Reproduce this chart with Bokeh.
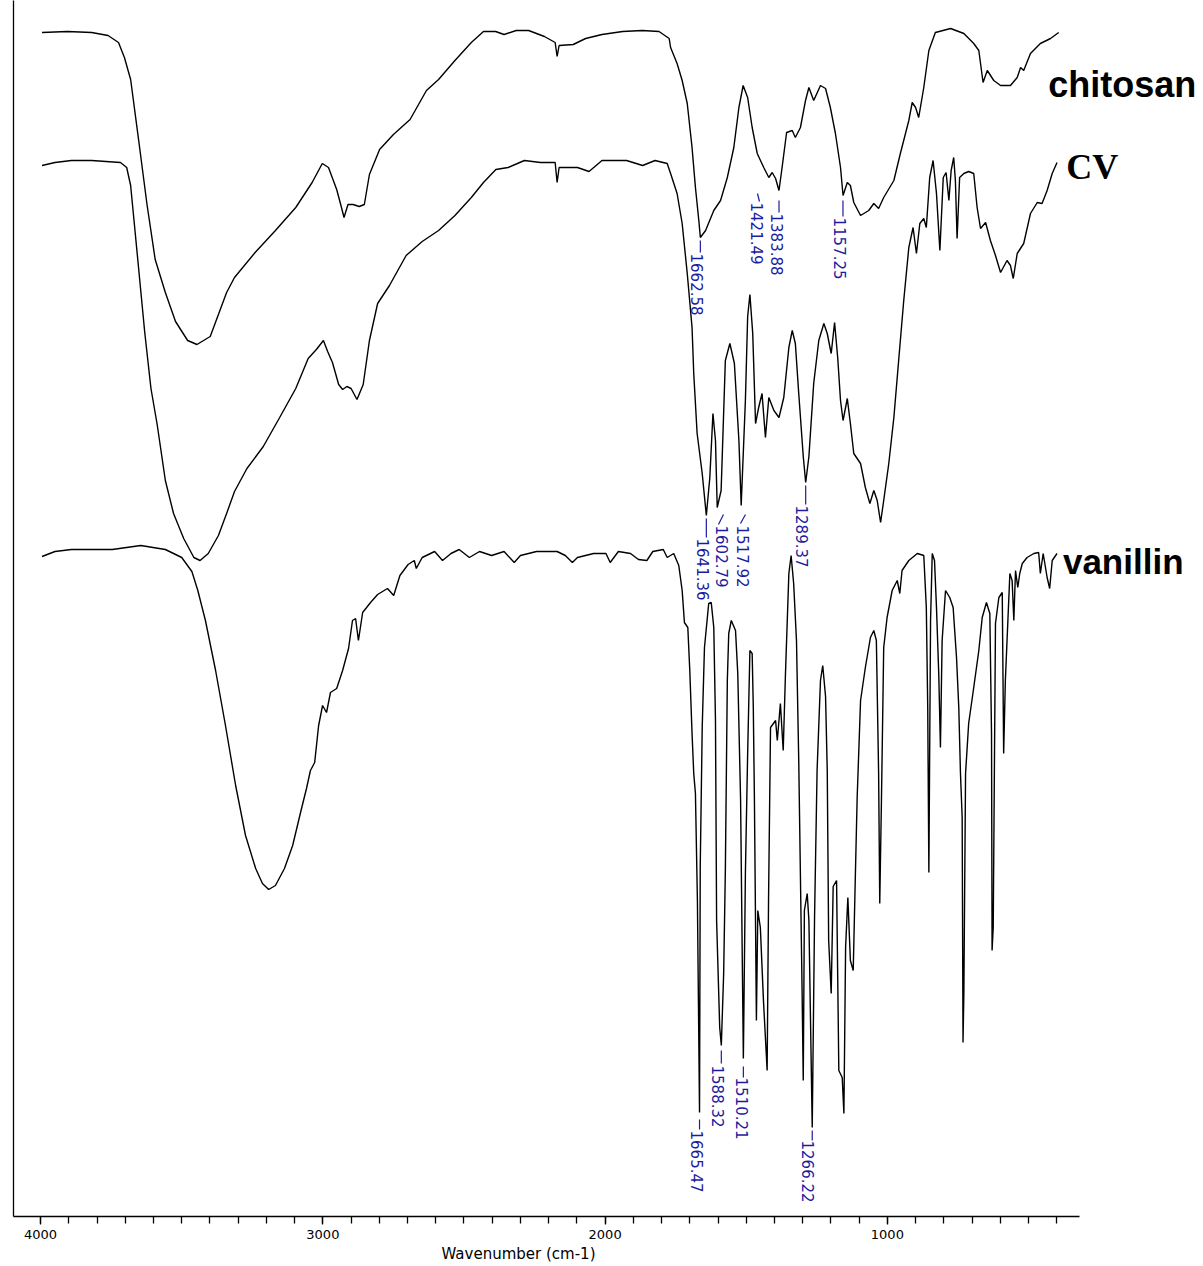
import math
from bokeh.plotting import figure
from bokeh.models import Range1d, FixedTicker, Label, Title
from bokeh.embed import file_html
from bokeh.resources import INLINE
from bokeh.core.properties import value

# ---------------- data (wavenumber cm-1, transmittance in offset arbitrary units) -------------
chitosan_wn = [3995, 3905, 3819, 3761, 3724, 3703, 3681, 3652, 3623, 3594,
               3558, 3522, 3479, 3446, 3399, 3370, 3341, 3313, 3240, 3168,
               3096, 3038, 3002, 2980, 2951, 2934, 2925, 2911, 2893, 2871,
               2853, 2835, 2799, 2750, 2691, 2633, 2590, 2532, 2474, 2431,
               2388, 2358, 2315, 2271, 2215, 2177, 2170, 2163, 2113, 2069,
               2011, 1938, 1868, 1809, 1773, 1768, 1745, 1727, 1709, 1692,
               1680, 1668, 1662.6, 1644, 1615, 1591, 1567, 1544, 1526, 1511,
               1495, 1479, 1461, 1438, 1420, 1408, 1396, 1384, 1373, 1357,
               1337, 1326, 1308, 1290, 1278, 1261, 1237, 1219, 1202, 1184,
               1166, 1157, 1142, 1131, 1119, 1095, 1066, 1048, 1031, 1013,
               977, 954, 924, 912, 900, 889, 871, 853, 830, 776,
               729, 694, 676, 661, 646, 623, 599, 564, 540, 528,
               517, 493, 458, 422, 393]
chitosan_t = [118.4, 118.5, 118.4, 118.1, 117.4, 115.9, 113.7, 107.5, 101.2, 95.7,
              92.4, 89.5, 87.6, 87.2, 88.0, 90.2, 92.4, 93.9, 96.4, 98.6,
              100.9, 103.4, 105.3, 104.9, 102.7, 100.9, 99.9, 101.2, 101.2, 101.0,
              101.2, 104.2, 106.7, 108.2, 109.7, 112.6, 113.7, 115.6, 117.4, 118.5,
              118.5, 118.2, 118.6, 118.6, 118.0, 117.4, 116.0, 117.1, 117.2, 117.8,
              118.2, 118.5, 118.6, 118.5, 117.8, 116.9, 115.3, 113.6, 111.3, 106.9,
              102.9, 99.6, 97.9, 98.6, 100.6, 101.6, 103.9, 106.9, 110.9, 113.1,
              111.9, 108.9, 106.3, 104.9, 103.9, 104.4, 103.8, 102.6, 104.9, 108.4,
              108.6, 107.9, 108.9, 111.6, 112.9, 111.6, 113.1, 112.8, 110.9, 108.3,
              104.9, 102.1, 103.4, 103.1, 101.4, 100.1, 100.6, 101.3, 100.8, 101.9,
              103.6, 106.3, 109.6, 111.4, 110.9, 109.9, 112.9, 116.6, 118.4, 118.8,
              118.3, 117.3, 116.6, 113.4, 114.6, 113.6, 113.1, 113.1, 113.9, 114.9,
              114.6, 116.3, 117.3, 117.8, 118.4]

cv_wn = [3995, 3949, 3891, 3819, 3717, 3695, 3681, 3667, 3652, 3631,
         3609, 3587, 3558, 3529, 3493, 3457, 3435, 3406, 3370, 3341,
         3313, 3269, 3211, 3153, 3096, 3052, 3023, 2998, 2983, 2966,
         2944, 2930, 2915, 2900, 2879, 2857, 2835, 2806, 2764, 2705,
         2648, 2590, 2532, 2474, 2431, 2387, 2344, 2286, 2229, 2177,
         2170, 2163, 2098, 2057, 2011, 1924, 1867, 1823, 1780, 1768,
         1745, 1727, 1709, 1692, 1686, 1674, 1656, 1641.4, 1629, 1618,
         1609, 1602.8, 1589, 1574, 1558, 1542, 1526, 1517.9, 1503, 1495,
         1487, 1477, 1467, 1456, 1444, 1432, 1420, 1402, 1384, 1367,
         1349, 1337, 1326, 1314, 1298, 1289.4, 1278, 1261, 1243, 1225,
         1213, 1199, 1187, 1176, 1166, 1157, 1142, 1131, 1119, 1095,
         1078, 1062, 1048, 1036, 1024, 1013, 995, 977, 960, 942,
         924, 909, 897, 885, 871, 862, 850, 838, 826, 814,
         802, 792, 782, 774, 765, 759, 753, 744, 729, 712,
         694, 682, 670, 652, 635, 617, 599, 576, 564, 554,
         540, 517, 493, 469, 452, 434, 416, 399]
cv_t = [105.1, 105.4, 105.6, 105.6, 105.4, 104.9, 103.1, 99.0, 94.6, 88.4,
        82.8, 79.2, 73.6, 70.3, 67.8, 65.9, 65.6, 66.3, 68.1, 70.3,
        72.5, 74.8, 77.0, 79.9, 82.8, 85.8, 86.7, 87.6, 86.5, 85.4,
        83.2, 82.7, 83.0, 82.8, 81.7, 83.2, 87.6, 91.3, 93.1, 96.1,
        97.5, 98.6, 100.1, 101.9, 103.4, 104.7, 104.9, 105.6, 105.4, 105.4,
        103.4, 104.9, 104.9, 104.5, 105.6, 105.6, 105.1, 105.6, 105.3, 104.3,
        102.3, 99.3, 94.3, 88.9, 84.3, 78.3, 74.3, 70.1, 73.9, 80.3,
        77.6, 70.9, 72.6, 85.6, 87.3, 85.3, 77.6, 71.1, 81.6, 90.0,
        92.2, 88.3, 79.3, 80.9, 82.3, 77.9, 81.9, 80.6, 79.9, 81.9,
        86.9, 88.6, 87.3, 82.3, 76.0, 73.4, 76.0, 83.3, 87.6, 89.3,
        88.3, 86.3, 89.4, 85.9, 81.6, 79.6, 81.8, 79.3, 76.3, 75.3,
        72.9, 71.3, 72.6, 71.6, 69.4, 71.6, 75.3, 79.9, 85.6, 91.6,
        96.9, 98.9, 96.3, 99.3, 99.8, 98.9, 103.9, 105.6, 102.3, 96.6,
        103.9, 104.4, 101.6, 104.6, 105.9, 103.6, 97.8, 103.9, 104.3, 104.5,
        104.3, 100.9, 98.8, 99.4, 97.6, 96.1, 94.4, 95.6, 95.1, 93.8,
        96.3, 97.3, 100.3, 101.4, 101.3, 102.6, 104.3, 105.4]

vanillin_wn = [3995, 3949, 3891, 3746, 3645, 3558, 3500, 3464, 3443, 3416,
               3380, 3345, 3309, 3274, 3238, 3214, 3192, 3168, 3136, 3107,
               3079, 3058, 3044, 3029, 3015, 3001, 2987, 2973, 2951, 2930,
               2909, 2895, 2884, 2874, 2859, 2831, 2806, 2771, 2749, 2727,
               2698, 2676, 2669, 2648, 2604, 2576, 2546, 2517, 2481, 2445,
               2402, 2358, 2322, 2300, 2243, 2170, 2141, 2116, 2098, 2041,
               1997, 1982, 1953, 1910, 1882, 1852, 1831, 1794, 1780, 1757,
               1739, 1727, 1719, 1707, 1700, 1692, 1686, 1680, 1673, 1665.5,
               1663, 1656, 1648, 1633, 1624, 1615, 1609, 1605, 1594, 1588.3,
               1580, 1574, 1567, 1562, 1553, 1538, 1530, 1520, 1514, 1510.2,
               1503, 1495, 1487, 1479, 1475, 1471, 1464, 1459, 1450, 1439,
               1426, 1421, 1414, 1396, 1390, 1379, 1369, 1361, 1349, 1341,
               1332, 1322, 1314, 1302, 1298, 1294, 1284, 1278, 1266.2, 1258,
               1249, 1237, 1229, 1219, 1213, 1208, 1199, 1192, 1180, 1172,
               1160, 1154, 1148, 1140, 1131, 1121, 1113, 1107, 1095, 1078,
               1060, 1048, 1039, 1031, 1027, 1021, 1013, 1001, 983, 965,
               956, 948, 924, 894, 871, 862, 857, 853, 847, 841,
               833, 826, 818, 812, 806, 794, 779, 767, 755, 747,
               741, 735, 732, 729, 723, 712, 694, 676, 664, 649,
               637, 631, 629, 625, 617, 605, 593, 588, 582, 576,
               566, 558, 552, 546, 538, 531, 522, 505, 481, 464,
               458, 448, 434, 425, 416, 399]
vanillin_t = [66.0, 66.5, 66.7, 66.7, 67.1, 66.7, 65.9, 64.5, 62.6, 59.6,
              54.6, 49.1, 43.1, 38.1, 34.8, 33.3, 32.7, 33.1, 34.8, 37.1,
              40.4, 42.8, 44.6, 45.4, 49.1, 51.1, 50.4, 52.4, 52.8, 54.6,
              56.8, 59.6, 59.8, 57.6, 60.4, 61.4, 62.2, 62.8, 62.1, 64.1,
              65.2, 65.6, 64.8, 65.9, 66.5, 65.6, 66.3, 66.7, 65.9, 66.5,
              66.1, 66.5, 65.4, 66.1, 66.5, 66.5, 66.1, 65.4, 65.9, 66.3,
              66.3, 65.4, 66.5, 66.3, 65.7, 65.6, 66.5, 66.7, 65.9, 66.3,
              65.1, 62.6, 59.4, 58.9, 54.6, 48.3, 44.3, 42.3, 31.6, 10.4,
              34.9, 48.9, 56.9, 61.3, 61.4, 58.9, 49.6, 29.6, 18.9, 17.1,
              24.3, 34.6, 53.6, 58.3, 59.6, 58.6, 54.3, 41.6, 25.6, 15.8,
              34.3, 46.3, 56.6, 56.3, 50.9, 41.6, 19.6, 30.6, 28.9, 21.6,
              14.6, 31.6, 48.9, 49.6, 47.6, 51.3, 46.6, 54.3, 64.3, 66.1,
              63.3, 57.6, 45.6, 22.3, 13.6, 30.6, 32.3, 29.6, 8.9, 29.9,
              44.6, 53.6, 55.1, 52.0, 44.6, 27.6, 22.3, 33.0, 33.6, 14.6,
              13.9, 10.3, 26.9, 31.9, 25.6, 24.6, 34.6, 41.9, 51.6, 54.9,
              57.9, 58.6, 57.6, 44.3, 31.3, 41.6, 56.9, 59.9, 62.6, 63.6,
              62.3, 64.6, 65.6, 66.3, 66.1, 60.9, 50.9, 34.4, 59.6, 66.3,
              65.6, 60.9, 54.3, 46.9, 57.6, 62.6, 61.9, 60.9, 55.9, 50.9,
              44.3, 39.9, 17.4, 22.3, 44.3, 49.3, 52.9, 56.6, 59.9, 61.4,
              60.3, 48.3, 26.6, 28.9, 59.3, 61.9, 62.4, 46.3, 53.6, 57.6,
              64.3, 63.6, 59.6, 64.6, 62.9, 64.3, 65.3, 65.9, 66.3, 66.4,
              64.3, 66.3, 63.9, 62.8, 65.6, 66.3]

# peak annotations
peak_text = ["1662.58", "1421.49", "1383.88", "1157.25",
             "1641.36", "1602.79", "1517.92", "1289.37",
             "1665.47", "1588.32", "1510.21", "1266.22"]
peak_text_wn = [1672.7, 1460.2, 1389.3, 1166.2,
                1651.5, 1584.2, 1509.8, 1300.8,
                1672.7, 1598.3, 1513.3, 1279.5]
peak_text_t = [96.3, 101.4, 100.3, 99.9,
               67.8, 69.1, 69.1, 71.1,
               8.6, 15.1, 13.9, 7.6]
leader_x0 = [1662.6, 1460.2, 1383.9, 1157.3, 1641.4, 1580.6, 1502.7, 1289.4, 1665.5, 1588.3, 1510.2, 1266.2]
leader_y0 = [97.6, 102.3, 101.6, 101.6, 69.8, 70.2, 70.2, 73.1, 9.7, 16.6, 15.0, 8.6]
leader_x1 = [1662.6, 1453.1, 1383.9, 1157.3, 1641.4, 1598.3, 1520.4, 1289.4, 1665.5, 1588.3, 1510.2, 1266.2]
leader_y1 = [96.4, 101.5, 100.4, 100.0, 67.9, 69.2, 69.3, 71.2, 8.7, 15.3, 13.9, 7.6]

major_ticks = [4000, 3000, 2000, 1000]
minor_ticks = list(range(4000, 350, -100))

# ---------------- figure -------------
p = figure(width=1203, height=1266, output_backend="svg", toolbar_location=None,
           x_range=Range1d(4096, -120), y_range=Range1d(0, 121.6),
           min_border_left=13, min_border_right=0, min_border_top=0, min_border_bottom=50)
p.grid.visible = False
p.outline_line_color = None
p.background_fill_color = "white"
p.border_fill_color = "white"

# y axis: only a line
p.yaxis.ticker = FixedTicker(ticks=[])
p.yaxis.major_tick_line_color = None
p.yaxis.minor_tick_line_color = None
p.yaxis.major_tick_out = 0
p.yaxis.major_label_standoff = 0
p.yaxis.major_label_text_font_size = "0px"
p.yaxis.axis_line_color = "black"
p.yaxis.axis_line_width = 1.3

# x axis
xa = p.xaxis[0]
xa.bounds = (320, 4096)
xa.ticker = FixedTicker(ticks=major_ticks, minor_ticks=minor_ticks)
xa.axis_line_color = "black"
xa.axis_line_width = 1.3
xa.major_tick_line_color = "black"
xa.minor_tick_line_color = "black"
xa.major_tick_line_width = 1.3
xa.minor_tick_line_width = 1.3
xa.major_tick_in = 0
xa.major_tick_out = 8
xa.minor_tick_in = 0
xa.minor_tick_out = 7
xa.major_label_standoff = 5
xa.major_label_text_font = "DejaVu Sans"
xa.major_label_text_font_size = "13px"
xa.major_label_text_color = "black"

p.add_layout(Title(text="Wavenumber (cm-1)", align="left", offset=428, standoff=3,
                   text_font="DejaVu Sans", text_font_size="15px", text_font_style="normal",
                   text_color="black"), "below")

for wn, t in [(chitosan_wn, chitosan_t), (cv_wn, cv_t), (vanillin_wn, vanillin_t)]:
    p.line(wn, t, line_color="black", line_width=1.4)

blue = "#1c1ca0"
p.segment(x0=leader_x0, y0=leader_y0, x1=leader_x1, y1=leader_y1, line_color=blue, line_width=1.2)
p.text(x=peak_text_wn, y=peak_text_t, text=peak_text, angle=-math.pi / 2,
       text_align="left", text_baseline="middle", text_color=blue,
       text_font=value("DejaVu Sans"), text_font_size="15px")

# series names
p.add_layout(Label(x=430, y=113.2, text="chitosan", text_font="Liberation Sans", text_font_style="bold",
                   text_font_size="36px", text_color="black", text_baseline="alphabetic"))
p.add_layout(Label(x=366, y=105.0, text="CV", text_font="Liberation Serif", text_font_style="bold",
                   text_font_size="36px", text_color="black", text_baseline="alphabetic"))
p.add_layout(Label(x=378, y=65.5, text="vanillin", text_font="Liberation Sans", text_font_style="bold",
                   text_font_size="35px", text_color="black", text_baseline="alphabetic"))

open("out.html", "w").write(file_html(p, INLINE))
